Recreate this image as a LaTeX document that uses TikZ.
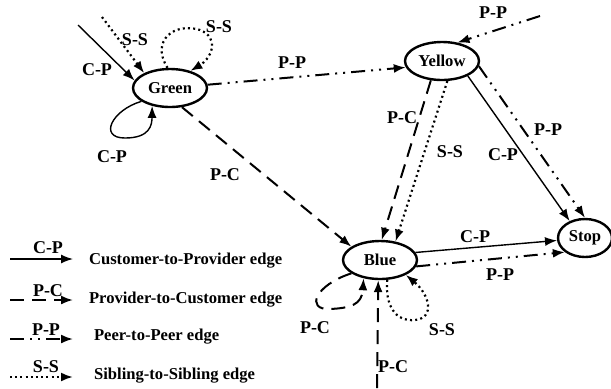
\documentclass[tikz,border=0pt]{standalone}
\usepackage{fontspec}
\setmainfont{Liberation Serif}
\usetikzlibrary{arrows.meta,shapes.geometric}

\begin{document}
\begin{tikzpicture}[x=0.5pt,y=-0.5pt,
  font=\bfseries\fontsize{8.3}{10}\selectfont,
  as/.style={ellipse, draw, line width=1.2pt, inner sep=0pt, minimum width=37pt, minimum height=19pt},
  lbl/.style={inner sep=1pt, font=\bfseries\fontsize{9}{10}\selectfont},
  tip/.style={-{Latex[length=6pt,width=4.5pt]}},
  cp/.style={tip, line width=0.7pt},
  pc/.style={tip, line width=1pt, dash pattern=on 7pt off 4pt},
  pp/.style={tip, line width=1pt, dash pattern=on 7pt off 3pt on 1pt off 3pt on 1pt off 3pt},
  ss/.style={tip, line width=1.1pt, dash pattern=on 1pt off 1.6pt}]
\useasboundingbox (0,0) rectangle (611,388);
\node[as] (green) at (170,88) {Green};
\node[as] (yellow) at (442,61) {Yellow};
\node[as] (blue) at (380,260) {Blue};
\node[as, minimum width=27pt] (stop) at (585,238) {Stop};
\coordinate (in0) at (78,25);
\coordinate (in1) at (102,17);
\coordinate (in2) at (540,16);
\coordinate (in3) at (377,388);
\draw[cp] (in0) -- (green.168);
\draw[ss] (in1) -- (green.150);
\draw[ss] (green.97) .. controls (150,40) and (175,22) .. (200,30) .. controls (220,38) and (212,58) .. (green.40);
\draw[cp] (green.205) .. controls (112,110) and (98,138) .. (125,138) .. controls (150,138) and (152,125) .. (green.225);
\draw[pp] (green.5) -- (yellow.190);
\draw[pc] (green.302) -- (blue.155);
\draw[pp] (in2) -- (yellow.50);
\draw[pc] (yellow.240) -- (blue.85);
\draw[ss] (yellow.285) -- (blue.50);
\draw[cp] (yellow.330) -- (stop.132);
\draw[pp] (yellow.352) -- (stop.90);
\draw[cp] (blue.12) -- (stop.185);
\draw[pp] (blue.350) -- (stop.215);
\draw[pc] (blue.205) .. controls (315,285) and (305,310) .. (330,309) .. controls (350,308) and (362,305) .. (blue.228);
\draw[ss] (blue.290) .. controls (385,305) and (395,322) .. (415,320) .. controls (435,318) and (430,295) .. (blue.330);
\draw[pc] (in3) -- (blue.265);
% edge labels
\node[lbl] (t0) at (97,70) {C-P};
\node[lbl] (t1) at (135,40) {S-S};
\node[lbl] (t2) at (219,27) {S-S};
\node[lbl] (t3) at (112,157) {C-P};
\node[lbl] (t4) at (292,63) {P-P};
\node[lbl] (t5) at (225,175) {P-C};
\node[lbl] (t6) at (493,13) {P-P};
\node[lbl] (t7) at (402,118) {P-C};
\node[lbl] (t8) at (450,152) {S-S};
\node[lbl] (t9) at (503,155) {C-P};
\node[lbl] (t10) at (548,130) {P-P};
\node[lbl] (t11) at (475,237) {C-P};
\node[lbl] (t12) at (500,275) {P-P};
\node[lbl] (t13) at (315,328) {P-C};
\node[lbl] (t14) at (442,330) {S-S};
\node[lbl] (t15) at (393,367) {P-C};
% legend
\coordinate (k0a) at (10,259); \coordinate (k0b) at (73,259);
\coordinate (k1a) at (10,300); \coordinate (k1b) at (73,300);
\coordinate (k2a) at (10,339); \coordinate (k2b) at (73,339);
\coordinate (k3a) at (10,377); \coordinate (k3b) at (73,377);
\draw[cp] (k0a) -- (k0b);
\draw[pc] (k1a) -- (k1b);
\draw[pp] (k2a) -- (k2b);
\draw[ss] (k3a) -- (k3b);
\node[lbl] (k0l) at (48,248) {C-P};
\node[lbl] (k1l) at (48,291) {P-C};
\node[lbl] (k2l) at (46,330) {P-P};
\node[lbl] (k3l) at (46,367) {S-S};
\node[anchor=west] (k0) at (82,261) {Customer-to-Provider edge};
\node[anchor=west] (k1) at (82,300) {Provider-to-Customer edge};
\node[anchor=west] (k2) at (87,337) {Peer-to-Peer edge};
\node[anchor=west] (k3) at (87,376) {Sibling-to-Sibling edge};
\end{tikzpicture}
\end{document}
